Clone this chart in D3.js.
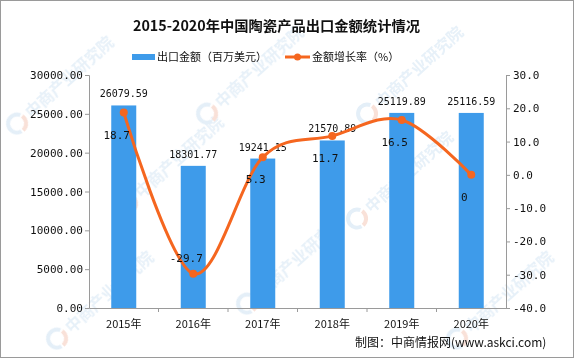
<!DOCTYPE html>
<html><head><meta charset="utf-8">
<script src="https://cdn.jsdelivr.net/npm/d3@7"></script>
<style>body{margin:0;background:#fff}svg{display:block}</style>
</head><body><svg id="c" width="575" height="359"></svg>
<script>
const years = ["2015年","2016年","2017年","2018年","2019年","2020年"];
const exportValue = [26079.59, 18301.77, 19241.15, 21570.89, 25119.89, 25116.59];
const growthRate = [18.7, -29.7, 5.3, 11.7, 16.5, 0];
const growthLabels = ["18.7","-29.7","5.3","11.7","16.5","0"];
const leftTicks = [0,5000,10000,15000,20000,25000,30000];
const rightTicks = [-40,-30,-20,-10,0,10,20,30];

const svg = d3.select("#c");
const W = 575, H = 359;
const mono = "'DejaVu Sans Mono', monospace";
const cjk = "'Noto Sans CJK SC', sans-serif";
const axisColor = "#9a9a9a";
const barColor = "#3e9bea";
const lineColor = "#f5661f";

svg.append("rect").attr("width",W).attr("height",H).attr("fill","#fff");

// watermarks (kept inside the frame)
const wm = svg.append("g").attr("opacity",0.5);
const wmPos = [[30,120],[140,200],[70,335],[260,300],[370,215],[380,110],[470,335],[220,110]];
wmPos.forEach(([x,y])=>{
  const g = wm.append("g").attr("transform",`translate(${x},${y}) rotate(-42)`);
  g.append("circle").attr("cx",-12).attr("cy",-6).attr("r",9).attr("fill","none")
    .attr("stroke","#f3c2b0").attr("stroke-width",4).attr("stroke-dasharray","14 40");
  g.append("circle").attr("cx",-12).attr("cy",-6).attr("r",9).attr("fill","none")
    .attr("stroke","#c9def0").attr("stroke-width",4).attr("stroke-dasharray","0 16 36 10");
  g.append("text").attr("x",2).attr("y",0).text("中商产业研究院")
    .attr("font-family",cjk).attr("font-weight","bold").attr("font-size",16).attr("fill","#cfe2f2");
});

const x = d3.scaleBand().domain(years).range([89,506]).padding(0);
const yL = d3.scaleLinear().domain([0,30000]).range([308,75]);
const yR = d3.scaleLinear().domain([-40,30]).range([308,75]);
const barW = 25;

// title
svg.append("text").attr("x",276.5).attr("y",31).attr("text-anchor","middle")
  .attr("font-family",cjk).attr("font-weight","bold").attr("font-size",14)
  .attr("textLength",287).attr("lengthAdjust","spacingAndGlyphs")
  .attr("fill","#111").text("2015-2020年中国陶瓷产品出口金额统计情况");

// legend
svg.append("rect").attr("x",132).attr("y",54).attr("width",23).attr("height",6).attr("fill",barColor);
svg.append("text").attr("x",157).attr("y",61).attr("font-family",cjk).attr("font-size",11)
  .attr("fill","#111").text("出口金额（百万美元）");
svg.append("line").attr("x1",285).attr("x2",310).attr("y1",57).attr("y2",57)
  .attr("stroke",lineColor).attr("stroke-width",3);
svg.append("circle").attr("cx",297.5).attr("cy",57).attr("r",3.5).attr("fill",lineColor);
svg.append("text").attr("x",312).attr("y",61).attr("font-family",cjk).attr("font-size",11)
  .attr("fill","#111").text("金额增长率（%）");

// axes
const gL = svg.append("g").attr("transform","translate(89,0)")
  .call(d3.axisLeft(yL).tickValues(leftTicks).tickFormat(d=>d.toFixed(2)).tickSize(4).tickSizeOuter(4));
const gR = svg.append("g").attr("transform","translate(506,0)")
  .call(d3.axisRight(yR).tickValues(rightTicks).tickFormat(d=>d.toFixed(1)).tickSize(4).tickSizeOuter(4));
const gB = svg.append("g").attr("transform","translate(0,308)")
  .call(d3.axisBottom(x).tickSize(0).tickSizeOuter(0));
gB.selectAll(".tick line").remove();
years.forEach((yr,i)=>{ if(i>0) gB.append("line").attr("x1",x(yr)).attr("x2",x(yr)).attr("y1",0).attr("y2",4).attr("stroke",axisColor); });
[gL,gR,gB].forEach(g=>{
  g.selectAll("path,line").attr("stroke",axisColor);
  g.selectAll("text").attr("font-family",mono).attr("font-size",11).attr("fill","#111");
});
gL.selectAll("text").attr("x",-6);
gR.selectAll("text").attr("x",7);
gB.selectAll("text").attr("font-family",cjk).attr("font-size",11).attr("dy",0).attr("y",20);

// bars
const cx = d => x(d) + x.bandwidth()/2;
svg.append("g").selectAll("rect").data(years).join("rect")
  .attr("x",(d)=>cx(d)-barW/2).attr("width",barW)
  .attr("y",(d,i)=>yL(exportValue[i])).attr("height",(d,i)=>yL(0)-yL(exportValue[i]))
  .attr("fill",barColor);
svg.append("g").selectAll("text").data(years).join("text")
  .attr("x",d=>cx(d)).attr("y",(d,i)=>yL(exportValue[i])-8).attr("text-anchor","middle")
  .attr("font-family",mono).attr("font-size",10).attr("fill","#111")
  .text((d,i)=>exportValue[i].toFixed(2));

// line
const line = d3.line().x((d,i)=>cx(years[i])).y(d=>yR(d)).curve(d3.curveCardinal.tension(0));
svg.append("path").datum(growthRate).attr("d",line).attr("fill","none")
  .attr("stroke",lineColor).attr("stroke-width",3);
svg.append("g").selectAll("circle").data(growthRate).join("circle")
  .attr("cx",(d,i)=>cx(years[i])).attr("cy",d=>yR(d)).attr("r",4).attr("fill",lineColor);
svg.append("g").selectAll("text").data(growthRate).join("text")
  .attr("x",(d,i)=>cx(years[i])-7).attr("y",d=> d < -20 ? yR(d)-12 : yR(d)+26)
  .attr("text-anchor","middle").attr("font-family",mono).attr("font-size",11).attr("fill","#111")
  .text((d,i)=>growthLabels[i]);

// source
svg.append("text").attr("x",355).attr("y",347).attr("font-family",cjk).attr("font-size",12)
  .attr("fill","#111").text("制图：中商情报网(www.askci.com)");

// frame
svg.append("rect").attr("x",0.5).attr("y",0.5).attr("width",573).attr("height",357)
  .attr("fill","none").attr("stroke","#9a9a9a");
</script></body></html>
